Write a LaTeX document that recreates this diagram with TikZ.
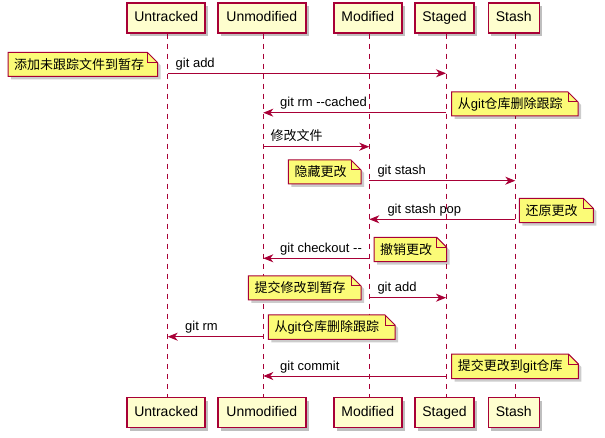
\documentclass[tikz,border=0pt]{standalone}
\usepackage{fontspec}
\setmainfont{Liberation Sans}
\newfontfamily\cjk{Noto Sans CJK SC}
\usetikzlibrary{arrows.meta,shadows}
\definecolor{pborder}{HTML}{A80036}
\definecolor{pfill}{HTML}{FEFECE}
\definecolor{nfill}{HTML}{FBFB77}
\tikzset{
  part/.style={draw=pborder, line width=1.5pt, fill=pfill, minimum height=30, inner sep=0,
    font=\fontsize{14}{16}\selectfont, text height=10pt, text depth=3pt,
    drop shadow={shadow xshift=3pt, shadow yshift=-3pt, opacity=.25, fill=black}},
  life/.style={draw=pborder, line width=1pt, dash pattern=on 5pt off 5pt},
  msg/.style={draw=pborder, line width=1pt, -{Stealth[length=10pt,width=8pt,inset=3pt]}},
  lbl/.style={anchor=base west, inner sep=0},
  notestyle/.style={draw=pborder, fill=nfill, line width=1pt, line join=miter},
}
\newcommand\notebox[6]{%
  \fill[black,opacity=.2] (#2+3,#3+3) -- (#4+3-10,#3+3) -- (#4+3,#3+13) -- (#4+3,#5+3) -- (#2+3,#5+3) -- cycle;
  \filldraw[notestyle] (#2,#3) -- (#4-10,#3) -- (#4,#3+10) -- (#4,#5) -- (#2,#5) -- cycle;
  \draw[notestyle, fill=none] (#4-10,#3) -- (#4-10,#3+10) -- (#4,#3+10);
  \node[anchor=west, inner sep=0] (#1) at (#2+6,{(#3+#5)/2}) {#6};
}
\begin{document}
\begin{tikzpicture}[x=1pt,y=-1pt,font=\fontsize{13}{15}\selectfont]
\useasboundingbox (0,0) rectangle (605,438);
% participants
\foreach \nm/\cx/\w in {Untracked/166.2/78, Unmodified/261.8/88, Modified/367.8/68, Staged/444.5/59, Stash/513.8/51}{
  \node[part, minimum width=\w] (\nm T) at (\cx,18) {\nm};
  \node[part, minimum width=\w] (\nm B) at (\cx,412.5) {\nm};
}
\foreach \nm in {Untracked, Unmodified, Modified, Staged, Stash}{
  \draw[life] ([xshift=1.5pt]\nm T.south) -- ([xshift=1.5pt]\nm B.north);
}
% lifeline x: 167.7, 263.3, 369.3, 446, 515.3
% 1 git add
\coordinate (m1s) at (167.7,73.3); \coordinate (m1e) at (446,73.3);
\draw[msg] (m1s) -- (m1e);
\node[lbl] (l1) at (175.5,67.3) {git add};
\notebox{n1}{8}{52.5}{157.5}{76.5}{\cjk 添加未跟踪文件到暂存}
% 2 git rm --cached
\coordinate (m2s) at (446,112.7); \coordinate (m2e) at (263.3,112.7);
\draw[msg] (m2s) -- (m2e);
\node[lbl] (l2) at (280,106.7) {git rm -{}-cached};
\notebox{n2}{451.7}{92}{578}{116}{{\cjk 从}git{\cjk 仓库删除跟踪}}
% 3 修改文件
\coordinate (m3s) at (263.3,146.7); \coordinate (m3e) at (369.3,146.7);
\draw[msg] (m3s) -- (m3e);
\node[lbl] (l3) at (270.5,140.7) {\cjk 修改文件};
% 4 git stash
\coordinate (m4s) at (369.3,180.7); \coordinate (m4e) at (515.3,180.7);
\draw[msg] (m4s) -- (m4e);
\node[lbl] (l4) at (377.3,174.7) {git stash};
\notebox{n3}{288.3}{160}{361}{184}{\cjk 隐藏更改}
% 5 git stash pop
\coordinate (m5s) at (515.3,219.3); \coordinate (m5e) at (369.3,219.3);
\draw[msg] (m5s) -- (m5e);
\node[lbl] (l5) at (387.3,213.3) {git stash pop};
\notebox{n4}{519.3}{198.3}{593.3}{222.7}{\cjk 还原更改}
% 6 git checkout --
\coordinate (m6s) at (369.3,258.3); \coordinate (m6e) at (263.3,258.3);
\draw[msg] (m6s) -- (m6e);
\node[lbl] (l6) at (280,252.3) {git checkout -{}-};
\notebox{n5}{374}{237.3}{446.7}{261.7}{\cjk 撤销更改}
% 7 git add
\coordinate (m7s) at (369.3,297.7); \coordinate (m7e) at (446,297.7);
\draw[msg] (m7s) -- (m7e);
\node[lbl] (l7) at (377.3,291.7) {git add};
\notebox{n6}{248.3}{276}{361}{300}{\cjk 提交修改到暂存}
% 8 git rm
\coordinate (m8s) at (263.3,336.7); \coordinate (m8e) at (167.7,336.7);
\draw[msg] (m8s) -- (m8e);
\node[lbl] (l8) at (185,330.7) {git rm};
\notebox{n7}{268.3}{315}{395}{339.3}{{\cjk 从}git{\cjk 仓库删除跟踪}}
% 9 git commit
\coordinate (m9s) at (446,376); \coordinate (m9e) at (263.3,376);
\draw[msg] (m9s) -- (m9e);
\node[lbl] (l9) at (280,370) {git commit};
\notebox{n8}{451.7}{354}{578.3}{378.7}{{\cjk 提交更改到}git{\cjk 仓库}}
\end{tikzpicture}
\end{document}
